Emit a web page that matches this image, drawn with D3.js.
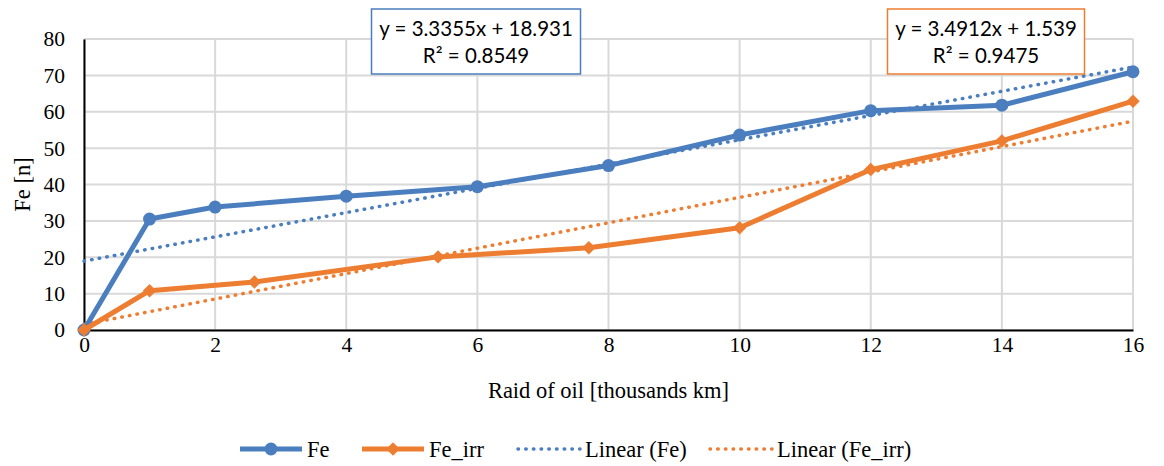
<!DOCTYPE html>
<html>
<head>
<meta charset="utf-8">
<script src="https://cdn.jsdelivr.net/npm/d3@7"></script>
<style>
  body { margin: 0; background: #fff; }
</style>
</head>
<body>
<div id="chart"></div>
<script>
// data
var feX = [0, 1, 2, 4, 6, 8, 10, 12, 14, 16];
var feY = [0, 30.5, 33.8, 36.8, 39.4, 45.2, 53.6, 60.3, 61.8, 71];
var irrX = [0, 1, 2.6, 5.4, 7.7, 10, 12, 14, 16];
var irrY = [0, 10.8, 13.2, 20.1, 22.6, 28.1, 44.1, 52, 62.9];
// trendline end points (from the equations shown)
var feTrend = [[0, 18.931], [16, 72.299]];
var irrTrend = [[0, 1.539], [16, 57.398]];
var xTicks = [0, 2, 4, 6, 8, 10, 12, 14, 16];
var yTicks = [0, 10, 20, 30, 40, 50, 60, 70, 80];
var feEq = ["y = 3.3355x + 18.931", "R² = 0.8549"];
var irrEq = ["y = 3.4912x + 1.539", "R² = 0.9475"];

var W = 1164, H = 466;
var m = {top: 39, right: 31, bottom: 136, left: 84};
var w = W - m.left - m.right, h = H - m.top - m.bottom;
var blue = "#4a7ebf", orange = "#ed7d31";
var serif = "'Liberation Serif', 'Times New Roman', serif";
var sans = "Lato, 'Open Sans', sans-serif";

var svg = d3.select("#chart").append("svg").attr("width", W).attr("height", H);
var g = svg.append("g").attr("transform", "translate(" + m.left + "," + m.top + ")");

var x = d3.scaleLinear().domain([0, 16]).range([0, w]);
var y = d3.scaleLinear().domain([0, 80]).range([h, 0]);

// gridlines
g.append("g").selectAll("line").data(yTicks).enter().append("line")
  .attr("x1", 0).attr("x2", w).attr("y1", d => y(d)).attr("y2", d => y(d))
  .attr("stroke", "#d9d9d9").attr("stroke-width", 2);
g.append("g").selectAll("line").data(xTicks).enter().append("line")
  .attr("y1", 0).attr("y2", h).attr("x1", d => x(d)).attr("x2", d => x(d))
  .attr("stroke", "#d9d9d9").attr("stroke-width", 2);

// axes
var xAxis = g.append("g").attr("transform", "translate(0," + h + ")")
  .call(d3.axisBottom(x).tickValues(xTicks).tickSize(0).tickPadding(7));
var yAxis = g.append("g")
  .call(d3.axisLeft(y).tickValues(yTicks).tickSize(0).tickPadding(19));
[xAxis, yAxis].forEach(function(a) {
  a.select(".domain").attr("stroke", "#000").attr("stroke-width", 2);
  a.selectAll("text").style("font-family", serif).style("font-size", "21.5px").attr("fill", "#000");
});

// trendlines
var line = d3.line().x(d => x(d[0])).y(d => y(d[1]));
function dotted(sel, col) {
  return sel.attr("fill", "none").attr("stroke", col).attr("stroke-width", 3.5)
    .attr("stroke-linecap", "round").attr("stroke-dasharray", "0.5,7.2");
}
dotted(g.append("path").datum(feTrend).attr("d", line), blue);
dotted(g.append("path").datum(irrTrend).attr("d", line), orange);

// series
var fe = feX.map((d, i) => [d, feY[i]]);
var irr = irrX.map((d, i) => [d, irrY[i]]);
g.append("path").datum(fe).attr("d", line).attr("fill", "none")
  .attr("stroke", blue).attr("stroke-width", 5).attr("stroke-linejoin", "round");
g.selectAll("circle.fe").data(fe).enter().append("circle")
  .attr("cx", d => x(d[0])).attr("cy", d => y(d[1])).attr("r", 6.5).attr("fill", blue);
g.append("path").datum(irr).attr("d", line).attr("fill", "none")
  .attr("stroke", orange).attr("stroke-width", 5).attr("stroke-linejoin", "round");
var diamond = d3.symbol().type(d3.symbolDiamond2).size(115);
g.selectAll("path.irr").data(irr).enter().append("path")
  .attr("d", diamond).attr("transform", d => "translate(" + x(d[0]) + "," + y(d[1]) + ")")
  .attr("fill", orange);

// equation boxes
function eqBox(cx, lines, col, bw) {
  var b = svg.append("g");
  b.append("rect").attr("x", cx - bw / 2).attr("y", 9).attr("width", bw).attr("height", 65)
    .attr("fill", "#fff").attr("stroke", col).attr("stroke-width", 1.5);
  b.selectAll("text").data(lines).enter().append("text")
    .style("font-family", sans).style("font-size", "20.5px").attr("fill", "#000")
    .attr("x", cx).attr("y", (d, i) => 36 + i * 27).attr("text-anchor", "middle").text(d => d);
}
eqBox(476, feEq, blue, 209);
eqBox(986, irrEq, orange, 197);

// axis titles
function title(sel) {
  return sel.style("font-family", serif).style("font-size", "22.5px").attr("fill", "#000");
}
title(svg.append("text")).attr("text-anchor", "middle")
  .attr("transform", "translate(30," + (m.top + h / 2) + ") rotate(-90)").text("Fe [n]");
title(svg.append("text")).attr("text-anchor", "middle")
  .attr("x", m.left + w / 2).attr("y", 398).text("Raid of oil [thousands km]");

// legend
var leg = svg.append("g").attr("transform", "translate(0,449)");
var items = [
  {x: 240, label: "Fe", col: blue, kind: "circle"},
  {x: 362, label: "Fe_irr", col: orange, kind: "diamond"},
  {x: 518, label: "Linear (Fe)", col: blue, kind: "dot"},
  {x: 710, label: "Linear (Fe_irr)", col: orange, kind: "dot"}
];
items.forEach(function(it) {
  var len = 62;
  var l = leg.append("line").attr("x1", it.x).attr("x2", it.x + len).attr("y1", 0).attr("y2", 0);
  if (it.kind == "dot") dotted(l, it.col);
  else l.attr("stroke", it.col).attr("stroke-width", 5);
  if (it.kind == "circle") leg.append("circle").attr("cx", it.x + len / 2).attr("cy", 0).attr("r", 6.5).attr("fill", it.col);
  if (it.kind == "diamond") leg.append("path").attr("d", diamond).attr("transform", "translate(" + (it.x + len / 2) + ",0)").attr("fill", it.col);
  title(leg.append("text")).attr("x", it.x + len + 5).attr("y", 8).text(it.label);
});
</script>
</body>
</html>
